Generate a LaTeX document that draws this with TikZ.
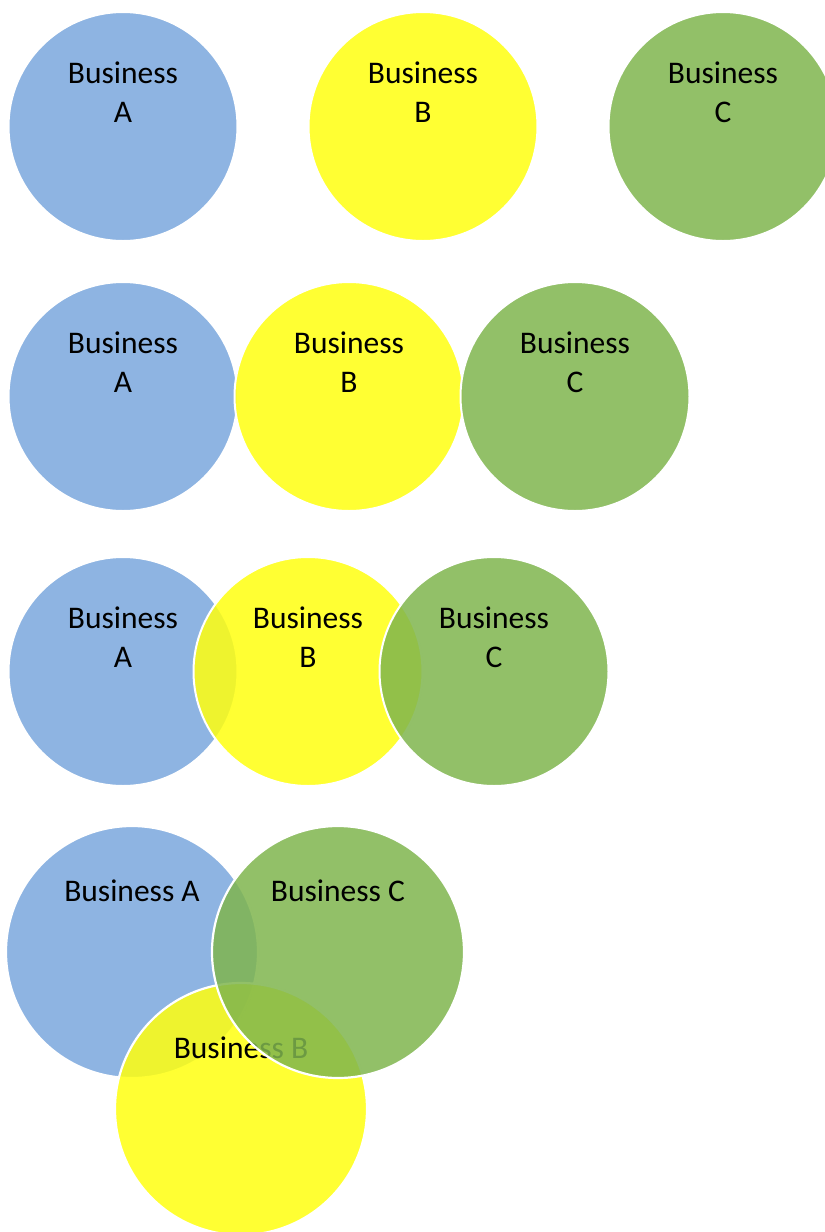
\documentclass[tikz,border=0pt]{standalone}
\usepackage{fontspec}
\setmainfont{Carlito}
\definecolor{bizblue}{RGB}{142,180,226}
\definecolor{bizyellow}{RGB}{255,255,15}
\definecolor{bizgreen}{RGB}{127,181,78}
\begin{document}
\begin{tikzpicture}[x=1bp,y=-1bp,
  circ/.style={circle,inner sep=0pt,minimum size=229bp,draw=white,line width=2bp},
  bigcirc/.style={circle,inner sep=0pt,minimum size=252bp,draw=white,line width=2.2bp},
  ca/.style={fill=bizblue},
  cb/.style={fill=bizyellow,fill opacity=0.85},
  cc/.style={fill=bizgreen,fill opacity=0.85},
  lbl/.style={anchor=base,inner sep=0pt,font=\fontsize{31.5bp}{39bp}\selectfont,text=black}]
\useasboundingbox (0,0) rectangle (825,1232);
\clip (0,0) rectangle (825,1232);
% Row 1
\node[circ,ca] (a1) at (123,126.5) {};
\node[circ,cb] (b1) at (423,126.5) {};
\node[circ,cc] (c1) at (723,126.5) {};
\node[lbl] (ta1) at (123,83) {Business};
\node[lbl] (ta1b) at (123,122) {A};
\node[lbl] (tb1) at (423,83) {Business};
\node[lbl] (tb1b) at (423,122) {B};
\node[lbl] (tc1) at (723,83) {Business};
\node[lbl] (tc1b) at (723,122) {C};
% Row 2
\node[circ,ca] (a2) at (123,396.5) {};
\node[circ,cb] (b2) at (349,396.5) {};
\node[circ,cc] (c2) at (575,396.5) {};
\node[lbl] (ta2) at (123,353) {Business};
\node[lbl] (ta2b) at (123,392) {A};
\node[lbl] (tb2) at (349,353) {Business};
\node[lbl] (tb2b) at (349,392) {B};
\node[lbl] (tc2) at (575,353) {Business};
\node[lbl] (tc2b) at (575,392) {C};
% Row 3
\node[circ,ca] (a3) at (123,671.5) {};
\node[circ,cb] (b3) at (308,671.5) {};
\node[circ,cc] (c3) at (494,671.5) {};
\node[lbl] (ta3) at (123,628) {Business};
\node[lbl] (ta3b) at (123,667) {A};
\node[lbl] (tb3) at (308,628) {Business};
\node[lbl] (tb3b) at (308,667) {B};
\node[lbl] (tc3) at (494,628) {Business};
\node[lbl] (tc3b) at (494,667) {C};
% Row 4
\node[bigcirc,ca] (a4) at (132,952) {};
\node[bigcirc,cb] (b4) at (241,1109) {};
\node[lbl] (tb4) at (241,1058) {Business B};
\node[bigcirc,cc] (c4) at (338,952) {};
\node[lbl] (ta4) at (132,901) {Business A};
\node[lbl] (tc4) at (338,901) {Business C};
\end{tikzpicture}
\end{document}
